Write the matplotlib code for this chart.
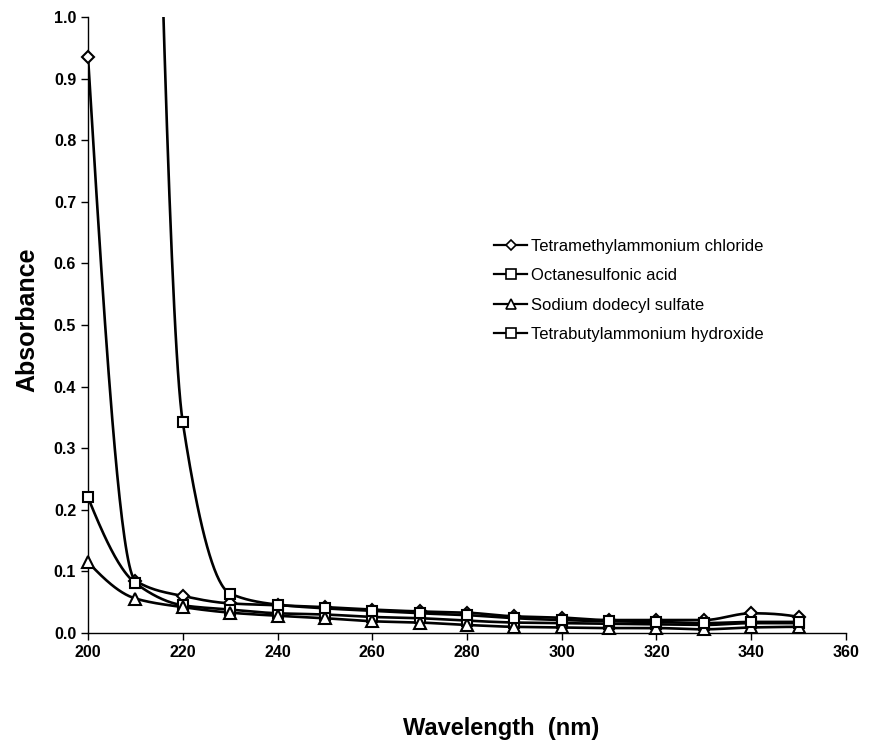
import numpy as np
import matplotlib
matplotlib.use("Agg")
import matplotlib.pyplot as plt

plt.rcParams['font.family'] = ['Liberation Sans', 'DejaVu Sans']

wavelength = [200, 210, 220, 230, 240, 250, 260, 270, 280, 290, 300, 310, 320, 330, 340, 350]
tmac = [0.935, 0.085, 0.060, 0.048, 0.045, 0.042, 0.038, 0.035, 0.033, 0.027, 0.025, 0.021, 0.021, 0.021, 0.032, 0.026]
osa = [0.220, 0.081, 0.045, 0.038, 0.032, 0.030, 0.026, 0.024, 0.020, 0.017, 0.016, 0.015, 0.014, 0.013, 0.016, 0.016]
sds = [0.115, 0.056, 0.042, 0.033, 0.028, 0.024, 0.019, 0.017, 0.013, 0.010, 0.009, 0.008, 0.008, 0.006, 0.009, 0.010]
tbah_wl = wavelength[1:]
tbah = [3.0, 0.342, 0.064, 0.046, 0.040, 0.036, 0.032, 0.029, 0.024, 0.021, 0.019, 0.018, 0.016, 0.018, 0.018]

labels = ["Tetramethylammonium chloride", "Octanesulfonic acid",
          "Sodium dodecyl sulfate", "Tetrabutylammonium hydroxide"]
markers = ["D", "s", "^", "s"]
msizes = [6.5, 7.5, 8, 7.5]

Y_MAX = 1.0


def smooth(x, y, n=40):
    # monotone (PCHIP-style) cubic through the data points
    x = np.asarray(x, float)
    y = np.asarray(y, float)
    h = np.diff(x)
    d = np.diff(y) / h
    m = np.zeros_like(y)
    for k in range(1, len(y) - 1):
        if d[k - 1] * d[k] <= 0:
            m[k] = 0.0
        else:
            w1 = 2 * h[k] + h[k - 1]
            w2 = h[k] + 2 * h[k - 1]
            m[k] = (w1 + w2) / (w1 / d[k - 1] + w2 / d[k])
    def end(h0, h1, d0, d1):
        s = ((2 * h0 + h1) * d0 - h0 * d1) / (h0 + h1)
        if np.sign(s) != np.sign(d0):
            s = 0.0
        elif np.sign(d0) != np.sign(d1) and abs(s) > abs(3 * d0):
            s = 3 * d0
        return s
    m[0] = end(h[0], h[1], d[0], d[1])
    m[-1] = end(h[-1], h[-2], d[-1], d[-2])
    xs, ys = [], []
    for k in range(len(x) - 1):
        t = np.linspace(0, 1, n)
        if k > 0:
            t = t[1:]
        h00 = 2 * t**3 - 3 * t**2 + 1
        h10 = t**3 - 2 * t**2 + t
        h01 = -2 * t**3 + 3 * t**2
        h11 = t**3 - t**2
        xs.append(x[k] + t * h[k])
        ys.append(h00 * y[k] + h10 * h[k] * m[k] + h01 * y[k + 1] + h11 * h[k] * m[k + 1])
    return np.concatenate(xs), np.concatenate(ys)


fig = plt.figure(figsize=(8.69, 7.40), dpi=100)
ax = fig.add_axes([0.1013, 0.1446, 0.8722, 0.8324])

series = [(wavelength, tmac), (wavelength, osa), (wavelength, sds), (tbah_wl, tbah)]
for (xs, ys), lab, mk, ms in zip(series, labels, markers, msizes):
    sx, sy = smooth(xs, ys)
    ax.plot(sx, sy, color='black', lw=1.9, zorder=2)
    xa = np.asarray(xs, float)
    ya = np.asarray(ys, float)
    vis = ya <= Y_MAX
    ax.plot(xa[vis], ya[vis], linestyle='none', marker=mk, ms=ms, mfc='white', mec='black',
            mew=1.5, zorder=3, clip_on=False)
    ax.plot([], [], color='black', lw=1.6, marker=mk, ms=ms - 1, mfc='white',
            mec='black', mew=1.2, label=lab)

ax.set_xlim(200, 360)
ax.set_ylim(0, Y_MAX)
ax.set_xticks(np.arange(200, 361, 20))
ax.set_yticks(np.arange(0, 1.01, 0.1))
ax.set_yticklabels([f"{v:.1f}" for v in np.arange(0, 1.01, 0.1)])
for s in ['top', 'right']:
    ax.spines[s].set_visible(False)
for s in ['left', 'bottom']:
    ax.spines[s].set_linewidth(1.0)
ax.tick_params(direction='out', length=5, width=1, labelsize=11.5)
for lbl in ax.get_xticklabels() + ax.get_yticklabels():
    lbl.set_fontweight('bold')

fig.text(501 / 869, 1 - 728 / 740, "Wavelength  (nm)", fontsize=17, fontweight='bold',
         ha='center', va='center')
fig.text(27 / 869, 1 - 320 / 740, "Absorbance", fontsize=18, fontweight='bold',
         ha='center', va='center', rotation=90)

leg = ax.legend(loc='center left', bbox_to_anchor=(0.5356, 0.556), frameon=False,
                fontsize=12, handlelength=2.0, handletextpad=0.2, labelspacing=0.87,
                borderpad=0, borderaxespad=0)

fig.savefig("out.png", dpi=100, facecolor='white')
